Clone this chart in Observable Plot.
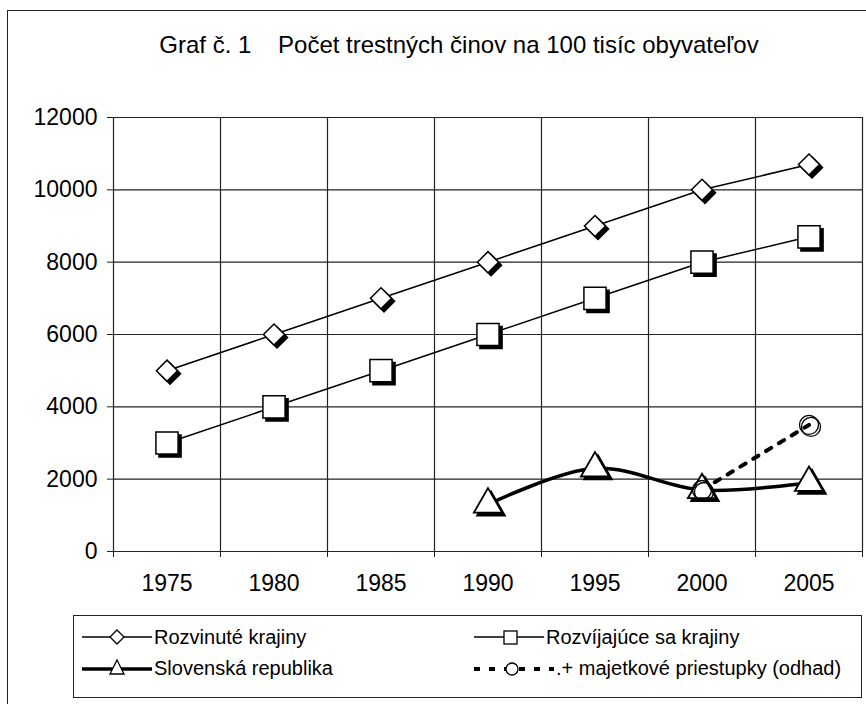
<!DOCTYPE html>
<html>
<head>
<meta charset="utf-8">
<script src="https://cdn.jsdelivr.net/npm/d3@7"></script>
<script src="https://cdn.jsdelivr.net/npm/@observablehq/plot@0.6"></script>
<style>
  html, body { margin: 0; padding: 0; background: white; overflow: hidden; }
  body { width: 866px; height: 704px; position: relative; font-family: "Liberation Sans", Arial, sans-serif; color: black; }
  #frame { position: absolute; left: 7px; top: 10px; width: 900px; height: 760px; border: 1.5px solid #222; box-sizing: border-box; }
  #title { position: absolute; left: 0; top: 33px; width: 918px; text-align: center; font-size: 24px; white-space: pre; line-height: 1; }
  #chart { position: absolute; left: 0; top: 0; }
  #legend { position: absolute; left: 73px; top: 615px; width: 789px; height: 83px; border: 1.5px solid #222; box-sizing: border-box; background: white; }
  .item { position: absolute; display: flex; align-items: center; font-size: 20px; white-space: pre; height: 30px; }
  .item svg { display: block; }
</style>
</head>
<body>
<div id="frame"></div>
<div id="title">Graf č. 1    Počet trestných činov na 100 tisíc obyvateľov</div>
<div id="chart"></div>
<div id="legend"></div>
<script>
// ---- data ----
const years = [1975, 1980, 1985, 1990, 1995, 2000, 2005];
const developed = [5000, 6000, 7000, 8000, 9000, 10000, 10700];
const developing = [3000, 4000, 5000, 6000, 7000, 8000, 8700];
const skYears = [1990, 1995, 2000, 2005];
const skValues = [1300, 2300, 1700, 1900];
const propYears = [2000, 2005];
const propValues = [1700, 3500];
const yTicks = [0, 2000, 4000, 6000, 8000, 10000, 12000];
const seriesNames = ["Rozvinuté krajiny", "Rozvíjajúce sa krajiny", "Slovenská republika", ".+ majetkové priestupky (odhad)"];

const dev = years.map((x, i) => ({x, y: developed[i]}));
const devg = years.map((x, i) => ({x, y: developing[i]}));
const sk = skYears.map((x, i) => ({x, y: skValues[i]}));
const prop = propYears.map((x, i) => ({x, y: propValues[i]}));
const boundaries = [...years.map(y => y - 2.5), years[years.length - 1] + 2.5];

const font = "Liberation Sans, Arial, sans-serif";
const grid = "#222";

const chart = Plot.plot({
  width: 866,
  height: 610,
  marginLeft: 113,
  marginRight: 4,
  marginTop: 117,
  marginBottom: 59,
  style: {background: "transparent", fontFamily: font, fontSize: "23px", overflow: "visible"},
  x: {domain: [boundaries[0], boundaries[boundaries.length - 1]]},
  y: {domain: [0, 12000]},
  marks: [
    Plot.ruleY(yTicks, {stroke: grid, strokeWidth: 1.2}),
    Plot.ruleX(boundaries, {stroke: grid, strokeWidth: 1.2}),
    Plot.axisY({ticks: yTicks, tickSize: 6, tickPadding: 10, tickFormat: d => String(d), label: null, fontSize: 23, stroke: grid}),
    Plot.axisX({ticks: boundaries, tickSize: 6, tickFormat: () => "", label: null, stroke: grid}),
    Plot.axisX({ticks: years, tickSize: 0, tickPadding: 23, tickFormat: d => String(d), label: null, fontSize: 23}),
    Plot.line(dev, {x: "x", y: "y", stroke: "black", strokeWidth: 1.5}),
    Plot.line(devg, {x: "x", y: "y", stroke: "black", strokeWidth: 1.5}),
    Plot.line(prop, {x: "x", y: "y", stroke: "black", strokeWidth: 4, strokeDasharray: "6,9"}),
    Plot.line(sk, {x: "x", y: "y", stroke: "black", strokeWidth: 3.5, curve: "catmull-rom"}),
    // shadows
    Plot.dot(dev, {x: "x", y: "y", symbol: "diamond2", r: 9.5, fill: "black", stroke: "black", strokeWidth: 1.5, dx: 3, dy: 3}),
    Plot.dot(devg, {x: "x", y: "y", symbol: "square", r: 12.5, fill: "black", stroke: "black", strokeWidth: 1.5, dx: 3, dy: 3}),
    Plot.dot(sk, {x: "x", y: "y", symbol: "triangle", r: 10.5, fill: "black", stroke: "black", strokeWidth: 1.5, dx: 3, dy: 3}),
    // markers
    Plot.dot(dev, {x: "x", y: "y", symbol: "diamond2", r: 9.5, fill: "white", stroke: "black", strokeWidth: 1.5}),
    Plot.dot(devg, {x: "x", y: "y", symbol: "square", r: 12.5, fill: "white", stroke: "black", strokeWidth: 1.5}),
    Plot.dot(sk, {x: "x", y: "y", symbol: "triangle", r: 10.5, fill: "white", stroke: "black", strokeWidth: 1.8}),
    Plot.dot(prop, {x: "x", y: "y", symbol: "circle", r: 9.5, fill: "none", stroke: "black", strokeWidth: 1.3, dx: 2, dy: 2}),
    Plot.dot(prop, {x: "x", y: "y", symbol: "circle", r: 9.5, fill: "none", stroke: "black", strokeWidth: 1.3})
  ]
});
document.getElementById("chart").appendChild(chart);

// ---- legend ----
const glyphs = [
  `<line x1="0" y1="15" x2="70" y2="15" stroke="black" stroke-width="1.5"/><path d="M35,8 L42,15 L35,22 L28,15 Z" fill="white" stroke="black" stroke-width="1.3"/>`,
  `<line x1="0" y1="15" x2="70" y2="15" stroke="black" stroke-width="1.5"/><rect x="30" y="9" width="13" height="13" fill="white" stroke="black" stroke-width="1.3"/>`,
  `<line x1="0" y1="16" x2="70" y2="16" stroke="black" stroke-width="3.5"/><path d="M35,7 L42,21 L28,21 Z" fill="white" stroke="black" stroke-width="1.3"/>`,
  `<line x1="0" y1="16" x2="80" y2="16" stroke="black" stroke-width="4" stroke-dasharray="6,9"/><circle cx="38" cy="16" r="6" fill="white" stroke="black" stroke-width="1.3"/>`
];
const pos = [[8, 6, 72], [400, 6, 72], [8, 37, 72], [400, 37, 82]];
const legend = document.getElementById("legend");
seriesNames.forEach((name, i) => {
  const d = document.createElement("div");
  d.className = "item";
  d.style.left = pos[i][0] + "px";
  d.style.top = pos[i][1] + "px";
  d.innerHTML = `<svg width="${pos[i][2]}" height="30">${glyphs[i]}</svg><span>${name}</span>`;
  legend.appendChild(d);
});
</script>
</body>
</html>
